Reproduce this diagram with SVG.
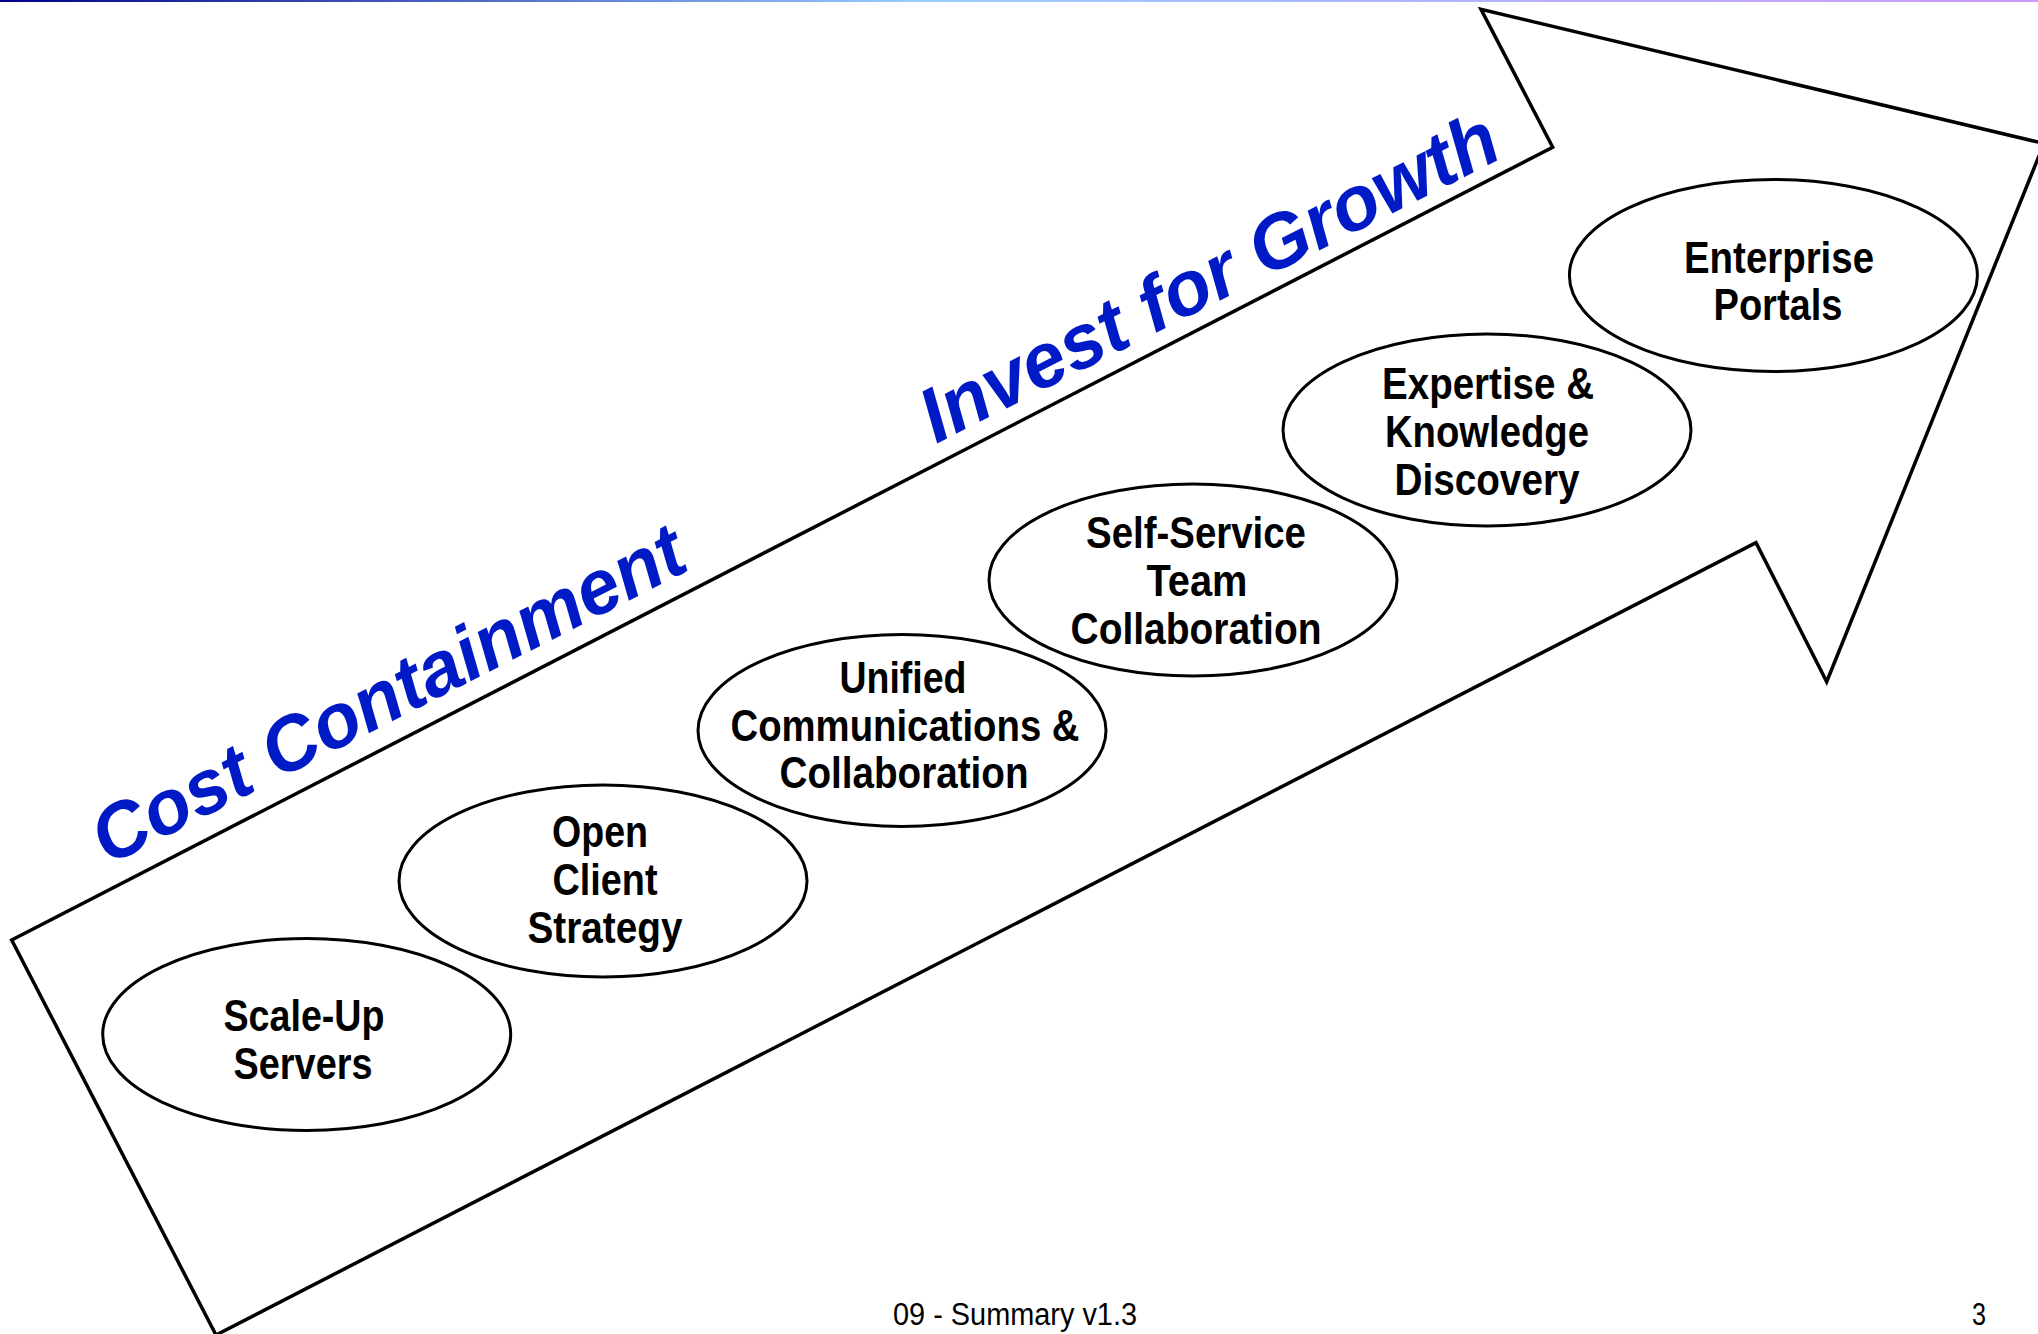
<svg xmlns="http://www.w3.org/2000/svg" width="2038" height="1334" viewBox="0 0 2038 1334">
<defs>
<linearGradient id="topbar" x1="0" y1="0" x2="1" y2="0">
<stop offset="0" stop-color="#000088"/>
<stop offset="0.45" stop-color="#99ccff"/>
<stop offset="1" stop-color="#cc99ff"/>
</linearGradient>
<style>
.node ellipse{fill:#fff;stroke:#000;stroke-width:3}
.lbl{font-family:"Liberation Sans Narrow","Liberation Sans",Arial,sans-serif;font-weight:bold;font-size:44px;fill:#000;text-anchor:middle}
.phase{font-family:"Liberation Sans",Arial,sans-serif;font-weight:bold;font-style:italic;font-size:77px;fill:#001AC6}
.foot{font-family:"Liberation Sans Narrow","Liberation Sans",Arial,sans-serif;font-size:31px;fill:#000}
</style>
</defs>
<rect x="0" y="0" width="2038" height="1334" fill="#fff"/>
<rect x="0" y="0" width="2038" height="2" fill="url(#topbar)"/>
<g id="connectors">
<polygon id="arrow" points="11.7,940 1552.7,147.3 1481,9.3 2044,143.5 1826.7,681.7 1756,542.7 216,1335" fill="#fff" stroke="#000" stroke-width="3.5" stroke-linejoin="miter"/>
</g>
<g id="phase-labels">
<text class="phase" transform="translate(108,866) rotate(-27)" textLength="655" lengthAdjust="spacingAndGlyphs">Cost Containment</text>
<text class="phase" transform="translate(936,444) rotate(-26.8)">Invest for Growth</text>
</g>
<g id="node-scale-up" class="node">
<ellipse cx="306.7" cy="1034.5" rx="204" ry="96"/>
<text class="lbl" x="304" y="1031" textLength="161" lengthAdjust="spacingAndGlyphs">Scale-Up</text>
<text class="lbl" x="303" y="1079" textLength="139" lengthAdjust="spacingAndGlyphs">Servers</text>
</g>
<g id="node-open-client" class="node">
<ellipse cx="603" cy="881" rx="204" ry="96"/>
<text class="lbl" x="600" y="847" textLength="96" lengthAdjust="spacingAndGlyphs">Open</text>
<text class="lbl" x="605" y="895" textLength="105" lengthAdjust="spacingAndGlyphs">Client</text>
<text class="lbl" x="605" y="943" textLength="155" lengthAdjust="spacingAndGlyphs">Strategy</text>
</g>
<g id="node-unified" class="node">
<ellipse cx="902" cy="730.5" rx="204" ry="96"/>
<text class="lbl" x="903" y="693" textLength="127" lengthAdjust="spacingAndGlyphs">Unified</text>
<text class="lbl" x="905" y="741" textLength="349" lengthAdjust="spacingAndGlyphs">Communications &amp;</text>
<text class="lbl" x="904" y="788" textLength="249" lengthAdjust="spacingAndGlyphs">Collaboration</text>
</g>
<g id="node-self-service" class="node">
<ellipse cx="1193" cy="580" rx="204" ry="96"/>
<text class="lbl" x="1196" y="548" textLength="220" lengthAdjust="spacingAndGlyphs">Self-Service</text>
<text class="lbl" x="1197" y="596" textLength="101" lengthAdjust="spacingAndGlyphs">Team</text>
<text class="lbl" x="1196" y="644" textLength="251" lengthAdjust="spacingAndGlyphs">Collaboration</text>
</g>
<g id="node-expertise" class="node">
<ellipse cx="1487" cy="430" rx="204" ry="96"/>
<text class="lbl" x="1488" y="399" textLength="212" lengthAdjust="spacingAndGlyphs">Expertise &amp;</text>
<text class="lbl" x="1487" y="447" textLength="204" lengthAdjust="spacingAndGlyphs">Knowledge</text>
<text class="lbl" x="1487" y="495" textLength="185" lengthAdjust="spacingAndGlyphs">Discovery</text>
</g>
<g id="node-enterprise" class="node">
<ellipse cx="1773.4" cy="275.5" rx="204" ry="96"/>
<text class="lbl" x="1779" y="273" textLength="190" lengthAdjust="spacingAndGlyphs">Enterprise</text>
<text class="lbl" x="1778" y="320" textLength="129" lengthAdjust="spacingAndGlyphs">Portals</text>
</g>
<g id="footer">
<text class="foot" x="893" y="1325" textLength="244" lengthAdjust="spacingAndGlyphs">09 - Summary v1.3</text>
<text class="foot" x="1972" y="1325" textLength="14" lengthAdjust="spacingAndGlyphs">3</text>
</g>
</svg>
